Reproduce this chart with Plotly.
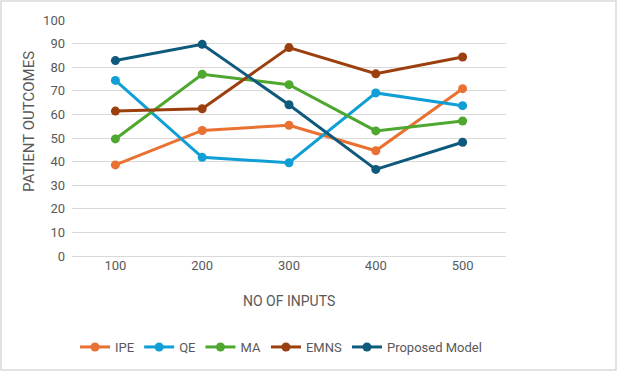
import plotly.graph_objects as go

inputs = ["100", "200", "300", "400", "500"]
ipe = [38.6, 53.2, 55.4, 44.6, 70.9]
qe = [74.4, 41.8, 39.5, 69.1, 63.7]
ma = [49.6, 77.0, 72.6, 53.0, 57.2]
emns = [61.4, 62.4, 88.3, 77.2, 84.3]
proposed = [82.8, 89.7, 64.1, 36.7, 48.2]

series = [
    ("IPE", ipe, "#E97132"),
    ("QE", qe, "#0F9ED5"),
    ("MA", ma, "#4EA72E"),
    ("EMNS", emns, "#9C3F0F"),
    ("Proposed Model", proposed, "#0E5A7C"),
]

FONT = "Roboto, Liberation Sans, sans-serif"
GRAY = "#595959"

fig = go.Figure()
for name, vals, col in series:
    fig.add_trace(go.Scatter(
        x=inputs, y=vals, name=name, mode="lines+markers",
        line=dict(color=col, width=3),
        marker=dict(color=col, size=9),
    ))

W, H = 618, 372
L, R, T, B = 72, 112, 20, 116
pw, ph = W - L - R, H - T - B

def px_x(p):
    return (p - L) / pw

def px_y(p):
    return (H - B - p) / ph

fig.update_layout(
    width=W, height=H,
    margin=dict(l=L, r=R, t=T, b=B, autoexpand=False),
    paper_bgcolor="white", plot_bgcolor="white",
    font=dict(family=FONT, size=13, color=GRAY),
    showlegend=True,
    legend=dict(orientation="h", x=px_x(281), xanchor="center",
                y=px_y(347), yanchor="middle",
                font=dict(size=13, color=GRAY), itemwidth=30,
                tracegroupgap=0),
    xaxis=dict(type="category", range=[-0.5, len(inputs) - 0.5],
               showgrid=False, showline=False, ticks="",
               tickfont=dict(size=13, color=GRAY), automargin=False),
    yaxis=dict(range=[0, 100], dtick=10, showgrid=True, gridcolor="#D9D9D9",
               gridwidth=1.2, zeroline=True, zerolinecolor="#D9D9D9",
               zerolinewidth=1.2, showline=False, ticks="",
               tickfont=dict(size=13, color=GRAY), ticklabelstandoff=6,
               automargin=False),
    annotations=[
        dict(text="PATIENT OUTCOMES", textangle=-90, xref="paper", yref="paper",
             x=px_x(29), y=px_y(122), showarrow=False,
             font=dict(size=15, color=GRAY), xanchor="center", yanchor="middle"),
        dict(text="NO OF INPUTS", xref="paper", yref="paper",
             x=0.5, y=px_y(301), showarrow=False,
             font=dict(size=14, color=GRAY), xanchor="center", yanchor="middle"),
    ],
    shapes=[
        dict(type="rect", xref="paper", yref="paper",
             x0=px_x(1), x1=px_x(616), y0=px_y(370), y1=px_y(1),
             line=dict(color="#D9D9D9", width=1.5), layer="below"),
    ],
)

fig.write_html("out.html",
               config={"displayModeBar": False},
               post_script="document.body.style.margin='0';document.body.style.overflow='hidden';")
